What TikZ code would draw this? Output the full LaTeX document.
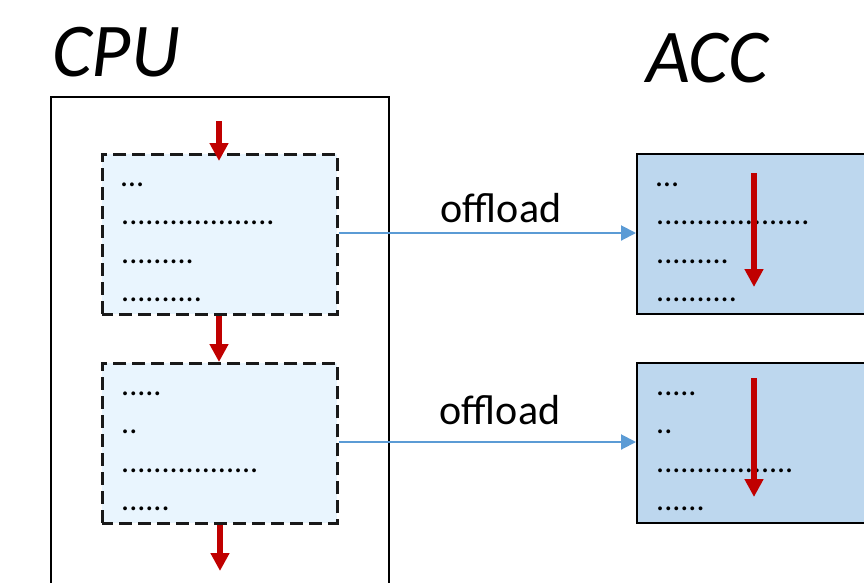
\documentclass[tikz,border=0pt]{standalone}
\usepackage{fontspec}
\setmainfont{Carlito}
\usetikzlibrary{arrows.meta}

\definecolor{flowred}{HTML}{C00000}
\definecolor{offblue}{HTML}{5B9BD5}
\definecolor{hostfill}{HTML}{E9F5FE}
\definecolor{accfill}{HTML}{BDD7EE}

\tikzset{
  hostbox/.style={draw=black!90, line width=2.6pt, fill=hostfill,
    dash pattern=on 13pt off 6pt, dash phase=2pt, minimum width=235pt, minimum height=160pt,
    inner sep=0pt, anchor=north west},
  accbox/.style={draw=black, line width=2.4pt, fill=accfill,
    minimum width=280pt, minimum height=160pt, inner sep=0pt, anchor=north west},
  outerbox/.style={draw=black, line width=2.2pt, minimum width=338pt,
    minimum height=560pt, inner sep=0pt, anchor=north west},
  codeline/.style={anchor=base west, inner sep=0pt, font=\fontsize{32}{32}\selectfont},
  heading/.style={anchor=base west, inner sep=0pt, font=\fontsize{76}{76}\selectfont\itshape},
  offlabel/.style={anchor=base, inner sep=0pt, font=\fontsize{42}{42}\selectfont},
  flow/.style={draw=flowred, line width=6pt,
    -{Triangle[width=18pt,length=18pt]}},
  offload/.style={draw=offblue, line width=2pt,
    -{Triangle[width=15pt,length=15pt]}},
}

\begin{document}
\begin{tikzpicture}[x=1pt, y=-1pt]
  \useasboundingbox (0,0) rectangle (864,582);
  \clip (0,0) rectangle (864,582);

  % headings
  \node[heading] (cpulabel) at (52,76) {CPU};
  \node[heading] (acclabel) at (646,82) {ACC};

  % host side
  \node[outerbox] (cpu) at (50,96) {};
  \node[hostbox] (h1) at (101,153) {};
  \node[hostbox] (h2) at (101,362) {};

  % accelerator side
  \node[accbox] (a1) at (636,153) {};
  \node[accbox] (a2) at (636,362) {};

  % code lines, first region (host and accelerator copies)
  \node[codeline] (h1r1) at (121,186)   {…};
  \node[codeline] (h1r2) at (121,224.5) {...................};
  \node[codeline] (h1r3) at (121,263)   {.........};
  \node[codeline] (h1r4) at (121,301.5) {..........};
  \node[codeline] (a1r1) at (656,186)   {…};
  \node[codeline] (a1r2) at (656,224.5) {...................};
  \node[codeline] (a1r3) at (656,263)   {.........};
  \node[codeline] (a1r4) at (656,301.5) {..........};

  % code lines, second region
  \node[codeline] (h2r1) at (121,395)   {.....};
  \node[codeline] (h2r2) at (121,433.5) {..};
  \node[codeline] (h2r3) at (121,472)   {.................};
  \node[codeline] (h2r4) at (121,510.5) {......};
  \node[codeline] (a2r1) at (656,395)   {.....};
  \node[codeline] (a2r2) at (656,433.5) {..};
  \node[codeline] (a2r3) at (656,472)   {.................};
  \node[codeline] (a2r4) at (656,510.5) {......};

  % host control flow
  \coordinate (hin) at (219,121);
  \coordinate (hout) at (220,571);
  \draw[flow] (hin) -- ([yshift=-8pt]h1.north -| hin);
  \draw[flow] (h1.south -| hin) -- (h2.north -| hin);
  \draw[flow] (h2.south -| hout) -- (hout);

  % accelerator execution
  \coordinate (a1s) at (754,173);
  \coordinate (a1e) at (754,287);
  \coordinate (a2s) at (754,378);
  \coordinate (a2e) at (754,497);
  \draw[flow] (a1s) -- (a1e);
  \draw[flow] (a2s) -- (a2e);

  % offload connectors
  \draw[offload] (h1.east |- 0,233) -- (a1.west |- 0,233);
  \draw[offload] (h2.east |- 0,442) -- (a2.west |- 0,442);
  \node[offlabel] (off1) at (501,222) {offload};
  \node[offlabel] (off2) at (500,424) {offload};
\end{tikzpicture}
\end{document}
